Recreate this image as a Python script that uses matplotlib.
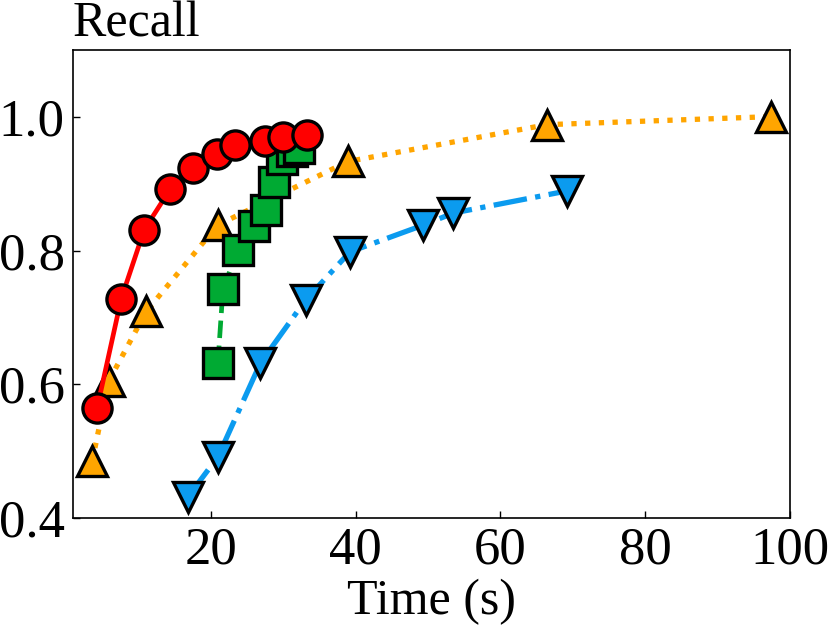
import matplotlib
matplotlib.use("Agg")
import matplotlib.pyplot as plt

plt.rcParams['font.family'] = ['Liberation Serif', 'DejaVu Serif']

# values
red_t = [4.33, 7.65, 10.83, 14.43, 17.51, 20.93, 23.33, 27.47, 29.96, 33.28]
red_r = [0.565, 0.728, 0.831, 0.892, 0.923, 0.944, 0.957, 0.964, 0.970, 0.973]

orange_t = [3.64, 5.93, 11.11, 20.97, 38.95, 66.43, 97.32]
orange_r = [0.485, 0.605, 0.709, 0.838, 0.933, 0.988, 1.000]

green_t = [21.0, 21.7, 23.8, 26.0, 27.65, 28.7, 29.9, 31.2, 32.2]
green_r = [0.632, 0.743, 0.801, 0.836, 0.861, 0.902, 0.937, 0.949, 0.953]

blue_t = [16.86, 21.01, 26.87, 33.1, 39.23, 49.36, 53.51, 69.2]
blue_r = [0.432, 0.492, 0.632, 0.726, 0.798, 0.838, 0.856, 0.889]

xticks = [20, 40, 60, 80, 100]
yticks = [0.4, 0.6, 0.8, 1.0]

fig = plt.figure(figsize=(8.3, 6.29), dpi=100)
ax = fig.add_axes([0.088, 0.176, 0.864, 0.745])

ms = 21
mew = 2.4
lw = 3.4

ax.plot(orange_t, orange_r, linestyle=(0, (1, 1.6)), color='#ffa500', lw=lw + 0.4,
        marker='^', ms=ms + 1, mfc='#ffa500', mec='black', mew=mew, zorder=2)
ax.plot(blue_t, blue_r, linestyle='-.', color='#0b9bef', lw=lw + 0.4,
        marker='v', ms=ms + 1, mfc='#0b9bef', mec='black', mew=mew, zorder=3)
ax.plot(green_t, green_r, linestyle='--', color='#00aa33', lw=lw,
        marker='s', ms=ms, mfc='#00aa33', mec='black', mew=mew, zorder=4)
ax.plot(red_t, red_r, linestyle='-', color='#ff0000', lw=lw,
        marker='o', ms=ms, mfc='#ff0000', mec='black', mew=mew, zorder=5)

ax.set_xlim(1, 100)
ax.set_ylim(0.4, 1.1)
ax.set_xticks(xticks)
ax.set_yticks(yticks)
ax.set_yticklabels(['%.1f' % v for v in yticks])
ax.tick_params(direction='in', length=5, width=1, labelsize=38, pad=6)
for s in ax.spines.values():
    s.set_linewidth(1.2)

ax.set_xlabel('Time (s)', fontsize=36, labelpad=3)
ax.text(0.0, 1.004, 'Recall', transform=ax.transAxes, ha='left', va='bottom',
        fontsize=36)

fig.savefig('out.png', dpi=100)
